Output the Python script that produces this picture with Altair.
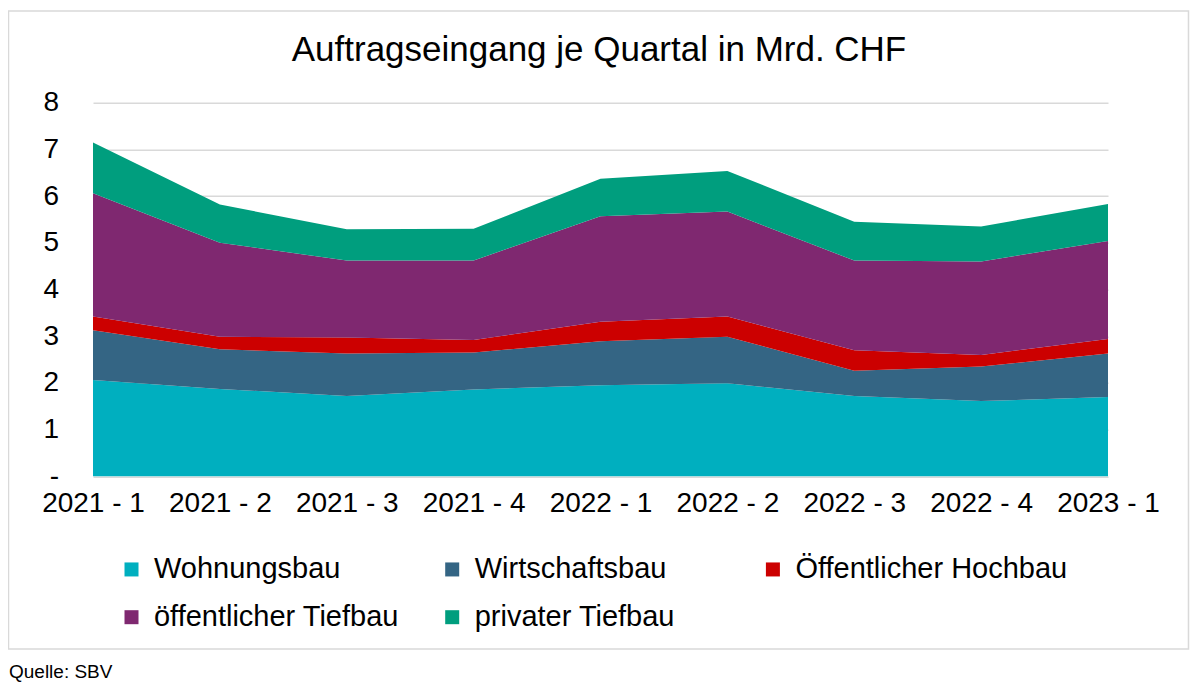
import altair as alt
import pandas as pd

quarters = ["2021 - 1", "2021 - 2", "2021 - 3", "2021 - 4", "2022 - 1",
            "2022 - 2", "2022 - 3", "2022 - 4", "2023 - 1"]
series = ["Wohnungsbau", "Wirtschaftsbau", "Öffentlicher Hochbau",
          "öffentlicher Tiefbau", "privater Tiefbau"]
colors = ["#00AFBF", "#346584", "#CC0000", "#7F2870", "#009E7E"]

wohnungsbau = [2.06, 1.87, 1.72, 1.86, 1.95, 1.99, 1.72, 1.61, 1.70]
wirtschaftsbau = [1.07, 0.85, 0.91, 0.79, 0.94, 1.00, 0.54, 0.74, 0.93]
oeff_hochbau = [0.29, 0.27, 0.34, 0.27, 0.42, 0.43, 0.44, 0.25, 0.31]
oeff_tiefbau = [2.64, 2.01, 1.65, 1.70, 2.26, 2.25, 1.92, 2.00, 2.10]
priv_tiefbau = [1.09, 0.82, 0.67, 0.68, 0.80, 0.87, 0.83, 0.75, 0.79]

y_ticks = [0, 1, 2, 3, 4, 5, 6, 7, 8]
title_text = "Auftragseingang je Quartal in Mrd. CHF"
source_text = "Quelle: SBV"

FONT = "Liberation Sans"

values = [wohnungsbau, wirtschaftsbau, oeff_hochbau, oeff_tiefbau, priv_tiefbau]
rows = []
for i, (name, vals) in enumerate(zip(series, values)):
    for q, v in zip(quarters, vals):
        rows.append({"Quartal": q, "Reihe": name, "Wert": v, "idx": i})
df = pd.DataFrame(rows)

W, H = 1015, 373.6

area = alt.Chart(df).mark_area(opacity=1).encode(
    x=alt.X("Quartal:O", sort=quarters, scale=alt.Scale(padding=0),
            axis=alt.Axis(title=None, labelAngle=0, labelFontSize=28, labelFont=FONT,
                          labelColor="#000000", labelPadding=13, ticks=False, tickSize=0,
                          domain=False, grid=False, labelOverlap=False)),
    y=alt.Y("Wert:Q", stack="zero", scale=alt.Scale(domain=[0, 8], nice=False),
            axis=alt.Axis(title=None, values=y_ticks, labelFontSize=28, labelFont=FONT,
                          labelColor="#000000", labelPadding=34.5, ticks=False, tickSize=0,
                          domain=False, grid=True, gridColor="#D9D9D9", gridWidth=1.5,
                          labelExpr="datum.value == 0 ? '-\u00a0\u00a0' : datum.label")),
    color=alt.Color("Reihe:N", scale=alt.Scale(domain=series, range=colors),
                    legend=alt.Legend(title=None, orient="none", legendX=24, legendY=452,
                                      direction="horizontal", columns=3, gridAlign="all",
                                      symbolType="square", symbolSize=196, symbolStrokeWidth=0,
                                      symbolOpacity=1, labelFontSize=29, labelFont=FONT,
                                      labelColor="#000000", labelOffset=8, columnPadding=11.7,
                                      rowPadding=18, padding=0, labelLimit=500)),
    order=alt.Order("idx:Q", sort="ascending"),
)

border = alt.Chart(pd.DataFrame({"k": [0]})).mark_rect(
    fillOpacity=0, stroke="#D9D9D9", strokeWidth=1.5, clip=False
).encode(x=alt.value(-84.5), x2=alt.value(1095.5), y=alt.value(-91.7), y2=alt.value(546.3))

title = alt.Chart(pd.DataFrame({"t": [title_text]})).mark_text(
    align="center", baseline="alphabetic", fontSize=35, font=FONT, color="#000000"
).encode(text="t:N", x=alt.value(506), y=alt.value(-41.7))

source = alt.Chart(pd.DataFrame({"t": [source_text]})).mark_text(
    align="left", baseline="alphabetic", fontSize=19, font=FONT, color="#000000"
).encode(text="t:N", x=alt.value(-84), y=alt.value(575.3))

chart = alt.layer(border, area, title, source).properties(
    width=W, height=H,
    padding={"left": 85, "top": 94.7, "right": 84, "bottom": 210},
    autosize="none",
    background="white",
).configure_view(stroke="transparent")

chart.save("out.html", embed_options={"renderer": "svg", "actions": False})
